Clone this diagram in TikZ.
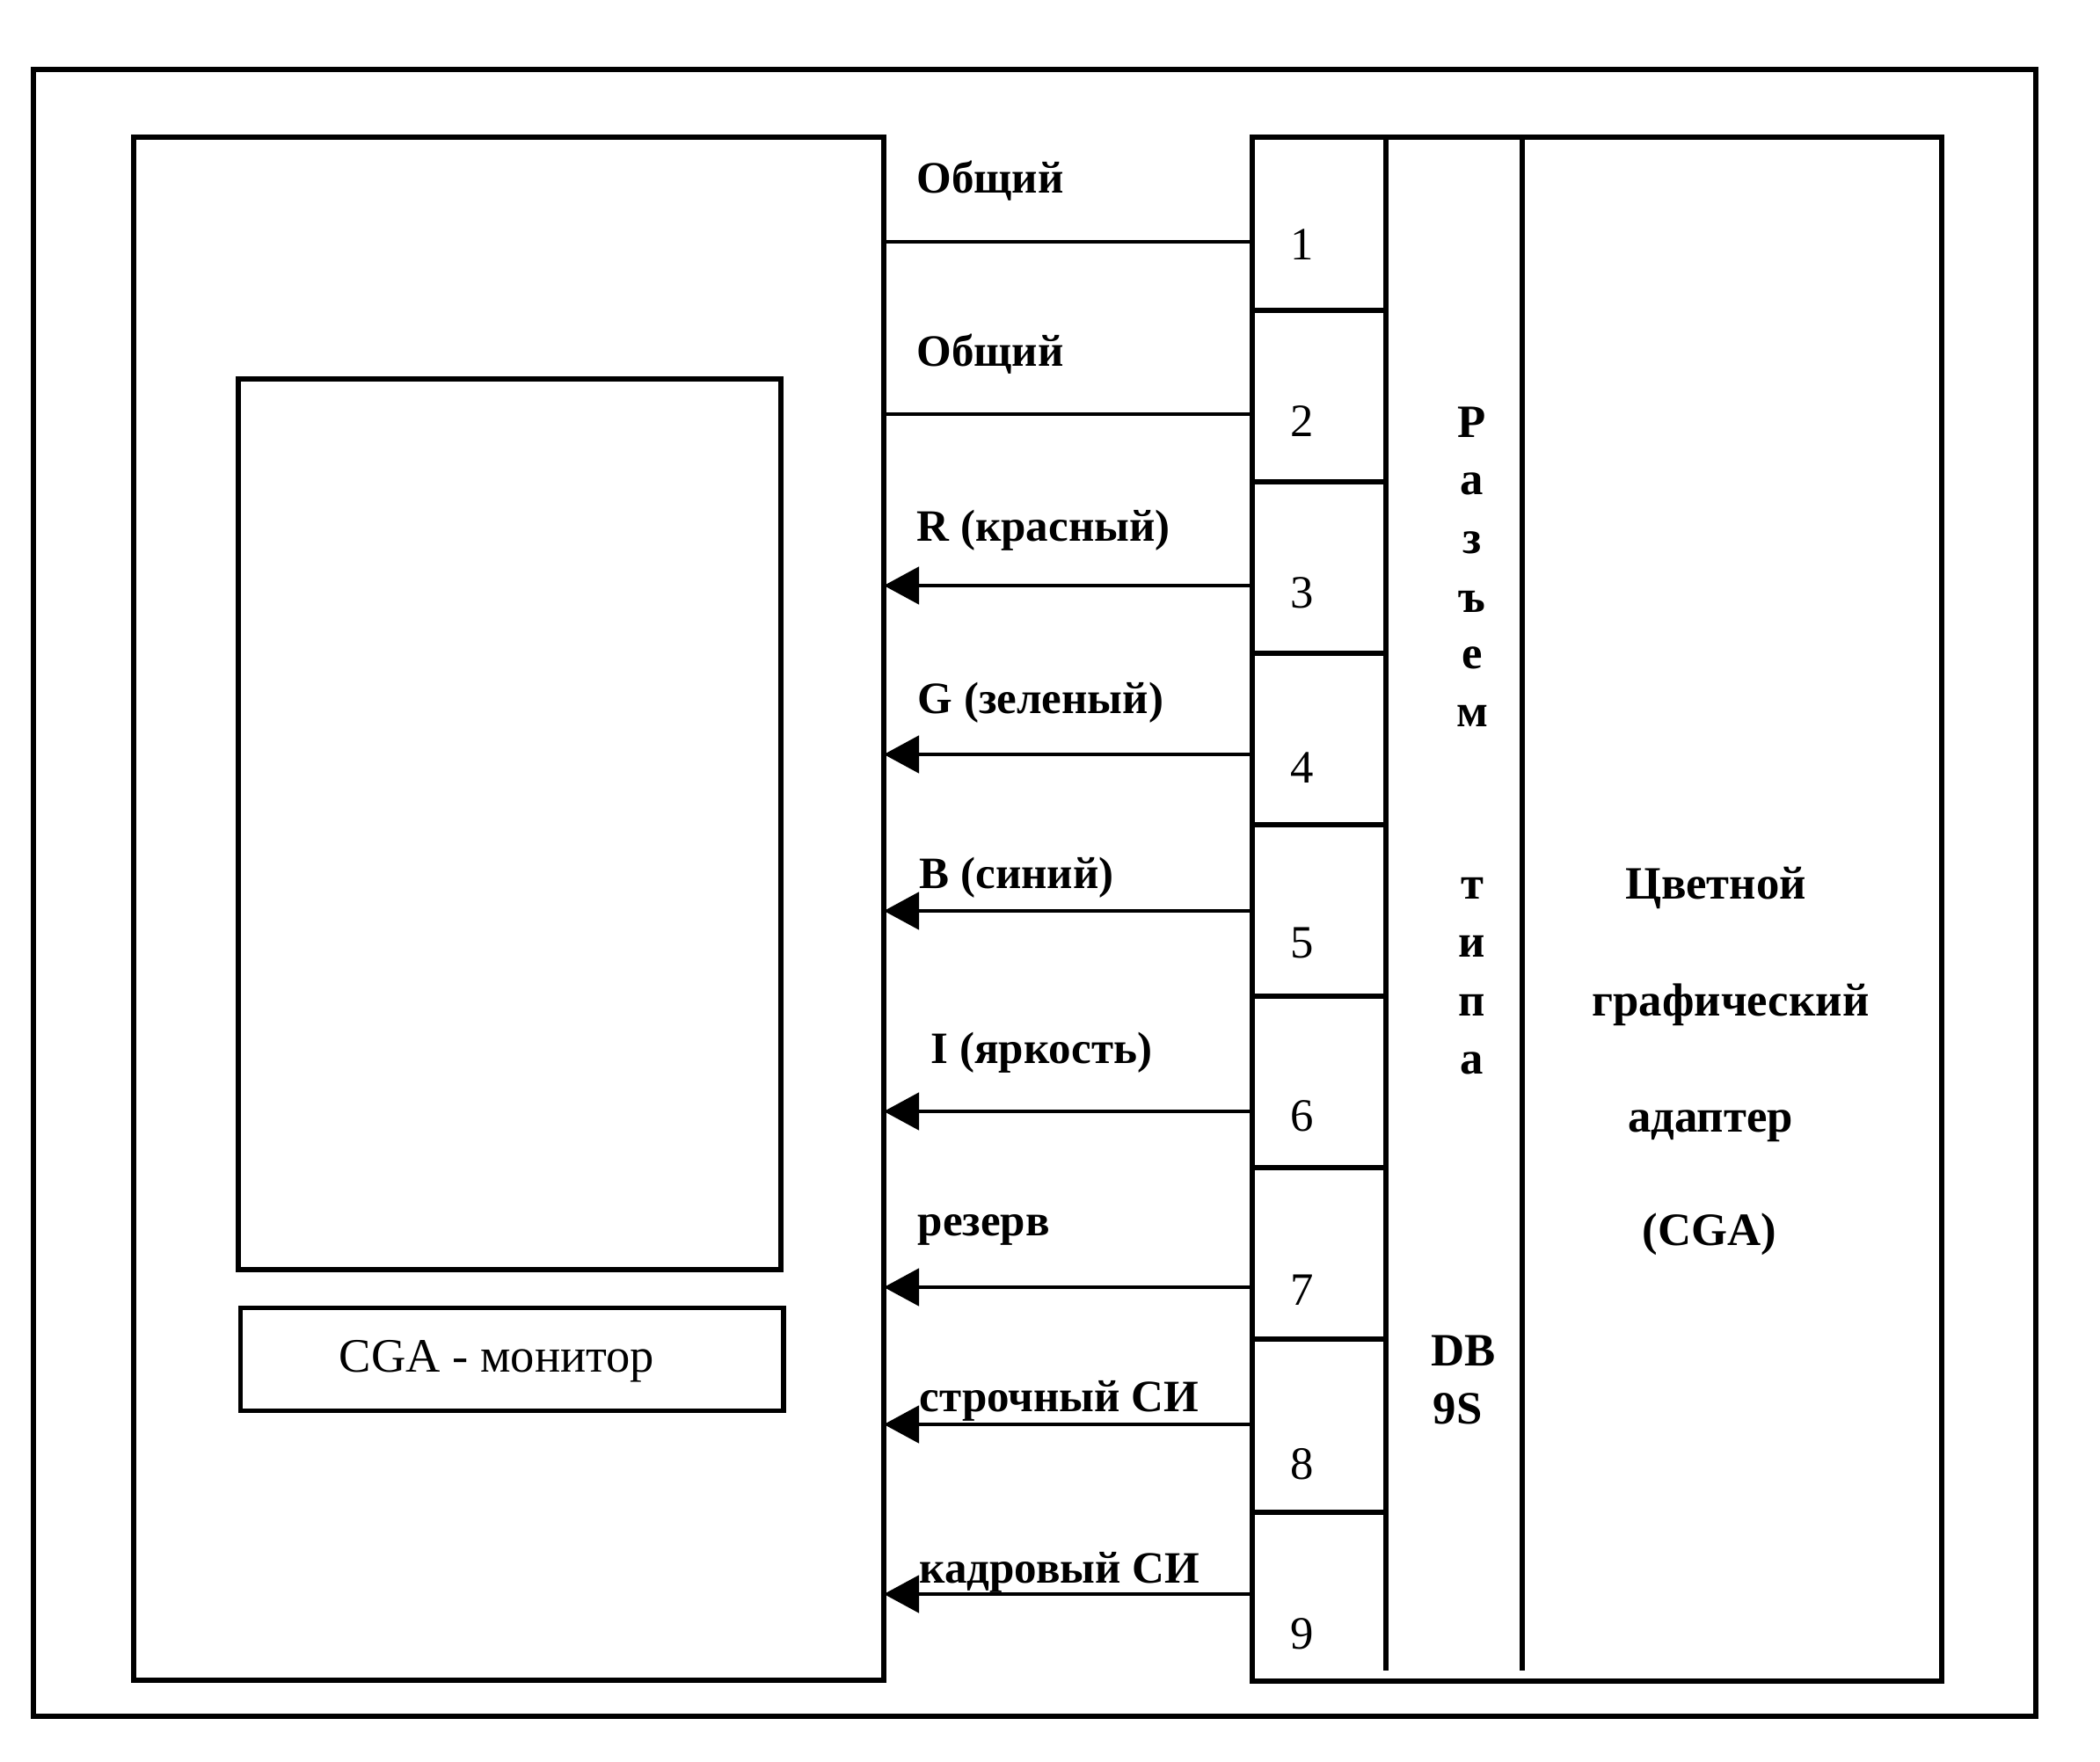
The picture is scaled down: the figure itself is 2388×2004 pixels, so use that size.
\documentclass[tikz,border=0pt]{standalone}
\usepackage{fontspec}
\setmainfont{Liberation Serif}
\usetikzlibrary{arrows.meta}
\tikzset{
  box/.style={draw=black, line width=1.5pt},
  sig/.style={draw=black, line width=1.4pt},
  sigarrow/.style={sig, -{Triangle[length=4mm,width=4.2mm]}},
  lbl/.style={anchor=base west, inner sep=0pt, font=\fontsize{14.5}{18}\selectfont\bfseries},
  pinnum/.style={anchor=base, inner sep=0pt, font=\fontsize{15}{18}\selectfont},
  vlet/.style={anchor=base, inner sep=0pt, font=\fontsize{15}{18}\selectfont\bfseries},
  adtxt/.style={anchor=base, inner sep=0pt, font=\fontsize{15}{18}\selectfont\bfseries},
}
\begin{document}
\begin{tikzpicture}[x=0.01cm,y=-0.01cm]
\useasboundingbox (0,0) rectangle (2388,2004);
% outer frame
\draw[box] (38,79) rectangle (2315,1952);
% monitor
\draw[box] (152,156) rectangle (1005,1911);
\draw[box] (271,431) rectangle (888,1444);
\node[box, minimum width=6.17cm, minimum height=1.17cm, anchor=north west] (lblbox) at (271,1485) {};
\node[anchor=base, inner sep=0pt, font=\fontsize{15.5}{18}\selectfont] (cgamon) at (565,1560) {CGA - монитор};
% adapter
\draw[box] (1424,156) rectangle (2208,1912);
\draw[box] (1576,156) -- (1576,1900);
\draw[box] (1731,156) -- (1731,1900);
\foreach \y in {353,548,743,938,1133,1328,1523,1720} {
  \draw[box] (1424,\y) -- (1576,\y);
}
% pin numbers
\foreach \n/\b in {1/296,2/497,3/692,4/890,5/1089,6/1286,7/1484,8/1682,9/1875} {
  \node[pinnum] (p\n) at (1481,\b) {\n};
}
% signal line endpoints
\foreach \n/\y in {1/275,2/471,3/666,4/858,5/1036,6/1264,7/1464,8/1620,9/1813} {
  \coordinate (a\n) at (1424,\y);
  \coordinate (m\n) at (1005,\y);
}
\draw[sig] (a1) -- (m1);
\draw[sig] (a2) -- (m2);
\foreach \n in {3,...,9} {
  \draw[sigarrow] (a\n) -- (m\n);
}
% labels
\node[lbl] (l1) at (1042,220) {Общий};
\node[lbl] (l2) at (1042,417) {Общий};
\node[lbl] (l3) at (1042,616) {R (красный)};
\node[lbl] (l4) at (1043,812) {G (зеленый)};
\node[lbl] (l5) at (1045,1010) {B (синий)};
\node[lbl] (l6) at (1058,1209) {I (яркость)};
\node[lbl] (l7) at (1043,1405) {резерв};
\node[lbl] (l8) at (1045,1605) {строчный СИ};
\node[lbl] (l9) at (1045,1800) {кадровый СИ};
% vertical text
\foreach \t/\b [count=\i] in {Р/498,а/563,з/630,ъ/697,е/761,м/827,т/1022,и/1088,п/1155,а/1221} {
  \node[vlet] (v\i) at (1674,\b) {\t};
}
\node[anchor=base west, inner sep=0pt, font=\fontsize{15}{18}\selectfont\bfseries] (db) at (1627,1553) {DB};
\node[anchor=base west, inner sep=0pt, font=\fontsize{15}{18}\selectfont\bfseries] (nines) at (1629,1619) {9S};
% adapter text
\node[adtxt] (ad1) at (1951,1022) {Цветной};
\node[adtxt] (ad2) at (1968,1155) {графический};
\node[adtxt] (ad3) at (1945,1287) {адаптер};
\node[adtxt] (ad4) at (1944,1416) {(CGA)};
\end{tikzpicture}
\end{document}
